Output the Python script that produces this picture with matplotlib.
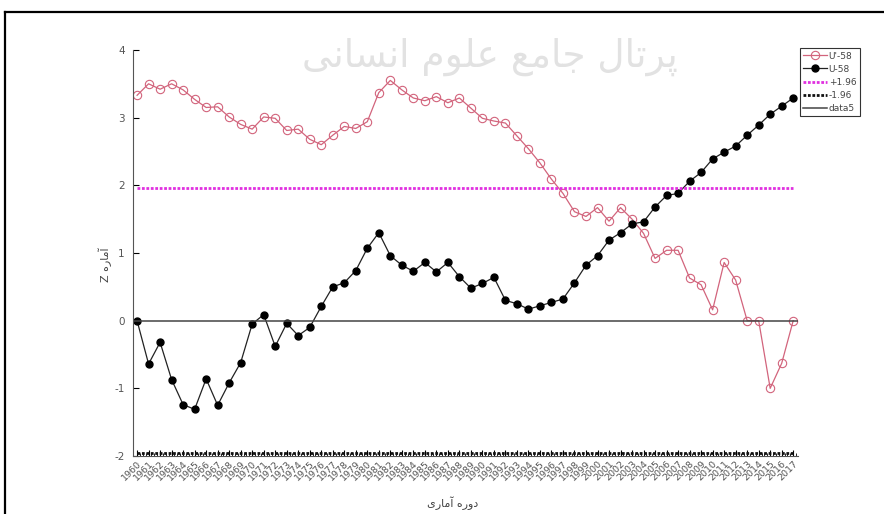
import numpy as np
import matplotlib
matplotlib.use("Agg")
import matplotlib.pyplot as plt
from matplotlib.lines import Line2D
from matplotlib import font_manager
from matplotlib.ft2font import FT2Font

years = list(range(1960, 2018))

u_prime = [3.33, 3.50, 3.42, 3.50, 3.41, 3.27, 3.15, 3.16, 3.01, 2.90,
           2.83, 3.01, 2.99, 2.81, 2.83, 2.68, 2.60, 2.74, 2.87, 2.84,
           2.94, 3.37, 3.55, 3.41, 3.29, 3.25, 3.31, 3.22, 3.29, 3.14,
           2.99, 2.95, 2.92, 2.73, 2.54, 2.33, 2.09, 1.88, 1.61, 1.54,
           1.67, 1.47, 1.67, 1.50, 1.29, 0.92, 1.04, 1.04, 0.63, 0.53,
           0.16, 0.86, 0.60, 0.00, 0.00, -1.00, -0.63, 0.00]

u = [0.00, -0.64, -0.32, -0.87, -1.24, -1.31, -0.86, -1.25, -0.92, -0.62,
     -0.05, 0.09, -0.38, -0.04, -0.22, -0.10, 0.21, 0.50, 0.56, 0.74,
     1.07, 1.30, 0.96, 0.82, 0.73, 0.86, 0.72, 0.86, 0.65, 0.48,
     0.55, 0.64, 0.30, 0.25, 0.17, 0.22, 0.27, 0.32, 0.56, 0.82,
     0.96, 1.19, 1.30, 1.43, 1.46, 1.68, 1.85, 1.88, 2.06, 2.19,
     2.39, 2.49, 2.58, 2.74, 2.89, 3.05, 3.17, 3.29]

upper = 1.96
lower = -1.96
legend_labels = ["U'-58", "U-58", "+1.96", "-1.96", "data5"]

xlabel_text = "دوره آماری"
ylabel_text = "آماره Z"
watermark_text = "پرتال جامع علوم انسانی"

# matplotlib has no arabic shaping, so pick presentation forms by hand
FORMS = {
    'ا': ('\uFE8D', '\uFE8E', None, None),
    'آ': ('\uFE81', '\uFE82', None, None),
    'د': ('\uFEA9', '\uFEAA', None, None),
    'ر': ('\uFEAD', '\uFEAE', None, None),
    'ز': ('\uFEAF', '\uFEB0', None, None),
    'و': ('\uFEED', '\uFEEE', None, None),
    'ه': ('\uFEE9', '\uFEEA', '\uFEEB', '\uFEEC'),
    'م': ('\uFEE1', '\uFEE2', '\uFEE3', '\uFEE4'),
    'ت': ('\uFE95', '\uFE96', '\uFE97', '\uFE98'),
    'ل': ('\uFEDD', '\uFEDE', '\uFEDF', '\uFEE0'),
    'ج': ('\uFE9D', '\uFE9E', '\uFE9F', '\uFEA0'),
    'ع': ('\uFEC9', '\uFECA', '\uFECB', '\uFECC'),
    'ن': ('\uFEE5', '\uFEE6', '\uFEE7', '\uFEE8'),
    'س': ('\uFEB1', '\uFEB2', '\uFEB3', '\uFEB4'),
    'پ': ('\uFB56', '\uFB57', '\uFB58', '\uFB59'),
    'ی': ('\uFBFC', '\uFBFD', '\uFBFE', '\uFBFF'),
}

# glyphs the font really has; fall back to the plain letter otherwise
_font = FT2Font(font_manager.findfont('DejaVu Sans'))
HAVE = set(_font.get_charmap().keys())


def rtl(text):
    out = []
    for i, ch in enumerate(text):
        if ch not in FORMS:
            out.append(ch)
            continue
        prev = text[i - 1] if i > 0 else ''
        nxt = text[i + 1] if i + 1 < len(text) else ''
        iso, fin, ini, med = FORMS[ch]
        jp = prev in FORMS and FORMS[prev][2] is not None
        jn = ini is not None and nxt in FORMS
        if jp and jn:
            g = med
        elif jp:
            g = fin
        elif jn:
            g = ini
        else:
            g = iso
        out.append(g if ord(g) in HAVE else ch)
    return ''.join(out)[::-1]


plt.rcParams['font.family'] = ['DejaVu Sans']
plt.rcParams['axes.unicode_minus'] = False

fig = plt.figure(figsize=(8.84, 5.14), dpi=100)
ax = fig.add_axes([0.1505, 0.1128, 0.752, 0.79])

fig.text(0.554, 0.89, rtl(watermark_text), fontsize=27, color='#e2e2e2',
         ha='center', va='center', zorder=0)

red = '#d2647c'
ax.plot(years, u_prime, color=red, lw=0.9, marker='o', ms=6,
        mfc='none', mec=red, mew=0.8, label=legend_labels[0])
ax.plot(years, u, color='#222222', lw=0.9, marker='o', ms=5,
        mfc='black', mec='black', label=legend_labels[1])
ax.plot([years[0], years[-1]], [upper, upper], color='#e030e0', lw=2,
        ls=(0, (1, 0.6)), label=legend_labels[2])
ax.plot([years[0], years[-1]], [lower, lower], color='#111111', lw=2,
        ls=(0, (1, 0.6)), label=legend_labels[3])
ax.axhline(0, color='#444444', lw=1.1, label=legend_labels[4])

ax.set_xlim(1959.65, 2017.4)
ax.set_ylim(-2, 4)
ax.set_xticks(years)
ax.set_xticklabels([str(y) for y in years], rotation=45, ha='right',
                   rotation_mode='anchor', fontsize=6.8, color='#555555')
ax.set_xticks(np.arange(1960, 2017.3, 0.25), minor=True)
ax.set_yticks(range(-2, 5))
ax.tick_params(axis='y', direction='in', length=4, labelsize=7.5,
               labelcolor='#555555', pad=6)
ax.tick_params(axis='x', which='major', direction='in', length=4, pad=2)
ax.tick_params(axis='x', which='minor', direction='in', length=2)

for s in ['top', 'right']:
    ax.spines[s].set_visible(False)
ax.spines['left'].set_color('#555555')
ax.spines['bottom'].set_color('#555555')

ax.set_ylabel(rtl(ylabel_text), fontsize=8, color='#444444')
ax.yaxis.set_label_coords(-0.032, 0.47)
ax.set_xlabel(rtl(xlabel_text), fontsize=8, color='#444444')
ax.xaxis.set_label_coords(0.48, -0.100)

leg = ax.legend(loc='upper left', bbox_to_anchor=(1.003, 1.005), fontsize=6.5,
                frameon=True, fancybox=False, edgecolor='black',
                handlelength=2.6, borderpad=0.4, labelspacing=0.45,
                handletextpad=0.2, borderaxespad=0)
leg.get_frame().set_linewidth(0.8)
for t in leg.get_texts():
    t.set_color('#444444')

fig.add_artist(Line2D([5 / 884, 1], [1 - 12 / 514, 1 - 12 / 514],
                      color='black', lw=1.6))
fig.add_artist(Line2D([5 / 884, 5 / 884], [0, 1 - 12 / 514],
                      color='black', lw=1.6))

fig.savefig('out.png', dpi=100)
